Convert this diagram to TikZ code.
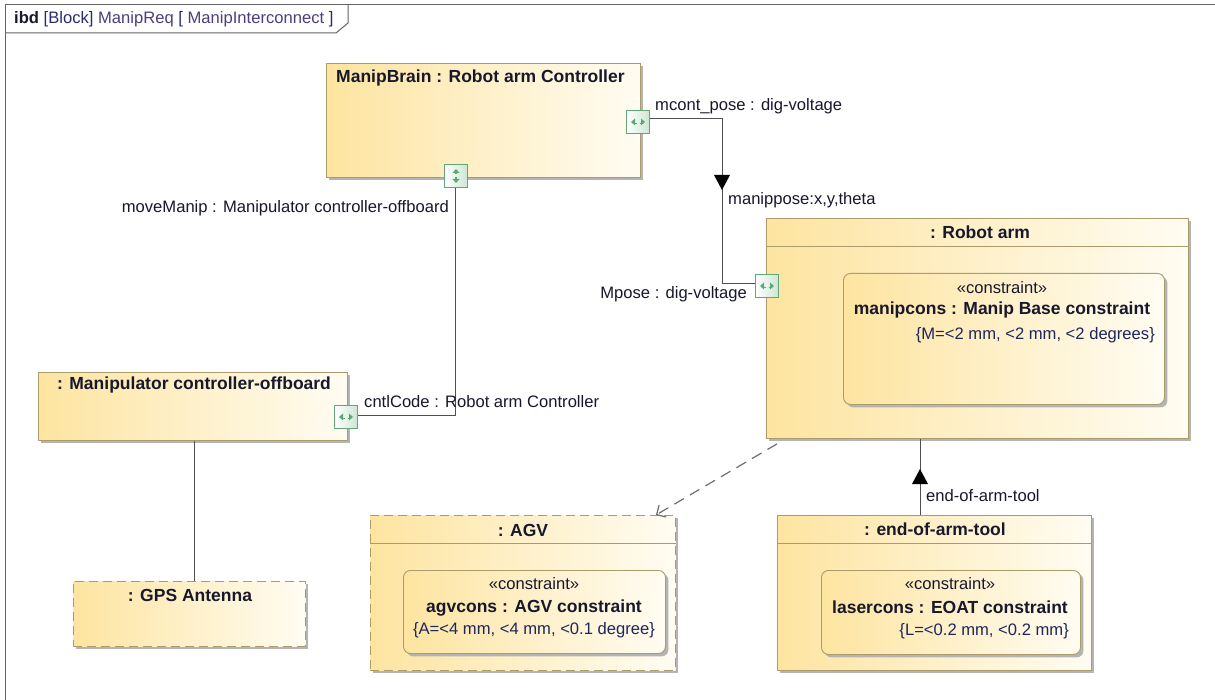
\documentclass[tikz,border=0pt]{standalone}
\usepackage{fontspec}
\setmainfont{Liberation Sans}
\usepackage{tikz}
\usetikzlibrary{positioning,shadows,arrows.meta}

\definecolor{blockborder}{RGB}{172,156,108}
\definecolor{blockleft}{RGB}{253,228,160}
\definecolor{blockright}{RGB}{255,252,242}
\definecolor{shadowgray}{RGB}{180,180,180}
\definecolor{portgreen}{RGB}{100,166,118}
\definecolor{portfill}{RGB}{205,230,212}
\definecolor{portarrow}{RGB}{92,168,114}
\definecolor{txtdark}{RGB}{24,24,44}
\definecolor{valnavy}{RGB}{30,38,92}
\definecolor{connline}{RGB}{80,80,80}
\definecolor{depline}{RGB}{110,110,110}
\definecolor{framegray}{RGB}{100,100,100}
\definecolor{hdrblue}{RGB}{40,44,112}
\definecolor{hdrpurple}{RGB}{78,62,126}

\newcommand{\lblfont}{\fontsize{16.6}{19}\selectfont}
\newcommand{\ttlfont}{\fontsize{17.5}{20}\selectfont\bfseries}

\tikzset{
	block/.style={draw=blockborder, line width=0.9pt, left color=blockleft, right color=blockright, anchor=north west, inner sep=0pt, drop shadow={shadow xshift=3pt, shadow yshift=-3pt, fill=shadowgray, opacity=1}},
	partdash/.style={dash pattern=on 9pt off 5pt},
	consbox/.style={block, rounded corners=7pt},
	port/.style={draw=portgreen, line width=0.9pt, left color=white, right color=portfill, minimum size=23pt, inner sep=0pt},
	portico/.style={fill=portarrow},
	ttl/.style={font=\ttlfont, text=txtdark, inner sep=1pt},
	lbl/.style={font=\lblfont, text=txtdark, inner sep=1pt},
	val/.style={font=\lblfont, text=valnavy, inner sep=1pt},
	conn/.style={draw=connline, line width=1pt},
	flowtip/.style={fill=black},
	depend/.style={draw=depline, line width=1.2pt, dash pattern=on 11pt off 7pt, -{Straight Barb[length=7pt,width=14pt]}},
	sepline/.style={draw=blockborder, line width=0.9pt},
	frameline/.style={draw=framegray, line width=1pt}
}

\begin{document}
\begin{tikzpicture}[x=1pt,y=-1pt]
		\useasboundingbox (0,0) rectangle (1215,700);
		\fill[white] (0,0) rectangle (1215,700);
		%Frame and heading tab
		\draw[frameline] (5,700) -- (5,5) -- (1215,5);
		\draw[frameline] (5,33) -- (336,33) -- (348,23) -- (348,5);
		\node[lbl, anchor=west] (hdr) at (13,19) {\textbf{ibd} \textcolor{hdrblue}{[Block]} \textcolor{hdrpurple}{ManipReq} \textcolor{hdrblue}{[} \textcolor{hdrpurple}{ManipInterconnect} \textcolor{hdrblue}{]}};

		%Parts
		\node[block, minimum width=314, minimum height=114] (brain) at (326,63) {};
		\node[ttl, anchor=west] (brainT) at (335,78) {ManipBrain : Robot arm Controller};
		\node[block, minimum width=422, minimum height=220] (arm) at (766,218) {};
		\node[ttl] (armT) at (980,232) {: Robot arm};
		\draw[sepline] (arm.west |- 0,246) -- (arm.east |- 0,246);
		\node[block, minimum width=309, minimum height=68] (ctrl) at (38,372) {};
		\node[ttl] (ctrlT) at (194,385) {: Manipulator controller-offboard};
		\node[block, partdash, minimum width=232, minimum height=65] (gps) at (73,581) {};
		\node[ttl] (gpsT) at (190,595) {: GPS Antenna};
		\node[block, partdash, minimum width=305, minimum height=155] (agv) at (370,515) {};
		\node[ttl] (agvT) at (523,530) {: AGV};
		\draw[sepline] (agv.west |- 0,543) -- (agv.east |- 0,543);
		\node[block, minimum width=314, minimum height=155] (eoat) at (777,515) {};
		\node[ttl] (eoatT) at (935,529) {: end-of-arm-tool};
		\draw[sepline] (eoat.west |- 0,543) -- (eoat.east |- 0,543);

		%Constraint properties
		\node[consbox, minimum width=321, minimum height=131] (armCons) at (843,273) {};
		\node[lbl] (armSt) at (1002,288) {«constraint»};
		\node[ttl] (armCn) at (1002,310) {manipcons : Manip Base constraint};
		\node[val, anchor=east] (armCv) at (1156,335) {\{M=<2 mm, <2 mm, <2 degrees\}};
		\node[consbox, minimum width=262, minimum height=83] (agvCons) at (403,570) {};
		\node[lbl] (agvSt) at (534,584) {«constraint»};
		\node[ttl] (agvCn) at (534,608) {agvcons : AGV constraint};
		\node[val] (agvCv) at (534,630) {\{A=<4 mm, <4 mm, <0.1 degree\}};
		\node[consbox, minimum width=259, minimum height=84] (eoatCons) at (821,570) {};
		\node[lbl] (eoatSt) at (950,584) {«constraint»};
		\node[ttl] (eoatCn) at (950,607) {lasercons : EOAT constraint};
		\node[val, anchor=east] (eoatCv) at (1070,631) {\{L=<0.2 mm, <0.2 mm\}};

		%Ports
		\node[port] (pBrainR) at (638,122) {};
		\node[port] (pBrainB) at (456,176) {};
		\node[port] (pMpose) at (767,286) {};
		\node[port] (pCode) at (346,417) {};
		\foreach \p in {pBrainR,pMpose,pCode}{
			\fill[portico] ([xshift=-7pt]\p.center) -- ++(4,-3.5) -- ++(0,7) -- cycle;
			\fill[portico] ([xshift=7pt]\p.center) -- ++(-4,-3.5) -- ++(0,7) -- cycle;
			\fill[portico] ([xshift=-3pt,yshift=-0.8pt]\p.center) rectangle ++(1.5,1.6);
			\fill[portico] ([xshift=1.5pt,yshift=-0.8pt]\p.center) rectangle ++(1.5,1.6);
		}
		\fill[portico] ([yshift=7pt]pBrainB.center) -- ++(-3.5,4) -- ++(7,0) -- cycle;
		\fill[portico] ([yshift=-7pt]pBrainB.center) -- ++(-3.5,-4) -- ++(7,0) -- cycle;
		\fill[portico] ([xshift=-0.8pt,yshift=1.5pt]pBrainB.center) rectangle ++(1.6,-1.5);
		\fill[portico] ([xshift=-0.8pt,yshift=-3pt]pBrainB.center) rectangle ++(1.6,-1.5);

		%Connectors
		\coordinate (b1) at (722,119);
		\coordinate (b2) at (722,284);
		\draw[conn] (pBrainR.east |- b1) -- (b1) -- (b2) -- (pMpose.west |- b2);
		\coordinate (flowA) at (722,175);
		\fill[flowtip] (flowA) ++(-8,0) -- ++(16,0) -- ++(-8,15) -- cycle;
		\node[lbl, anchor=west] (mcontL) at (654,106) {mcont\_pose : dig-voltage};
		\node[lbl, anchor=west] (flowAL) at (727,200) {manippose:x,y,theta};
		\node[lbl, anchor=east] (mposeL) at (748,294) {Mpose : dig-voltage};

		\coordinate (b3) at (455,415);
		\draw[conn] (pBrainB.south -| b3) -- (b3) -- (pCode.east |- b3);
		\node[lbl, anchor=east] (moveL) at (450,208) {moveManip : Manipulator controller-offboard};
		\node[lbl, anchor=west] (codeL) at (363,402) {cntlCode : Robot arm Controller};

		\draw[conn] ([xshift=2pt]ctrl.south) -- ([xshift=2pt]ctrl.south |- gps.north);

		\draw[depend] ([shift={(11,5)}]arm.south west) -- ([xshift=-20pt]agv.north east);

		\draw[conn] ([xshift=-14pt]eoat.north) -- ([xshift=-14pt]eoat.north |- arm.south);
		\coordinate (flowB) at (920,469);
		\fill[flowtip] (flowB) -- ++(8,15) -- ++(-16,0) -- cycle;
		\node[lbl, anchor=west] (flowBL) at (925,496) {end-of-arm-tool};
\end{tikzpicture}
\end{document}
